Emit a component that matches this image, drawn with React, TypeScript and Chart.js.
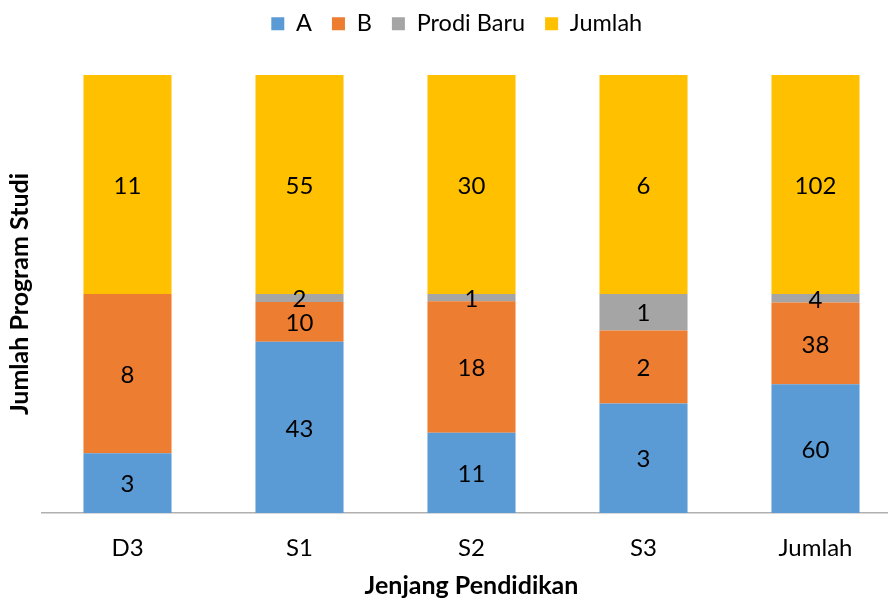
import React, { useEffect, useRef } from "react";
import { Chart, registerables } from "chart.js";

Chart.register(...registerables);

const categories = ["D3", "S1", "S2", "S3", "Jumlah"];
const seriesNames = ["A", "B", "Prodi Baru", "Jumlah"];
const valuesA = [3, 43, 11, 3, 60];
const valuesB = [8, 10, 18, 2, 38];
const valuesProdiBaru = [0, 2, 1, 1, 4];
const valuesJumlah = [11, 55, 30, 6, 102];
const colors = ["#5B9BD5", "#ED7D31", "#A5A5A5", "#FFC000"];
const xTitle = "Jenjang Pendidikan";
const yTitle = "Jumlah Program Studi";

const FONT = "Lato";

export default function App() {
  const ref = useRef<HTMLCanvasElement | null>(null);

  useEffect(() => {
    const raw = [valuesA, valuesB, valuesProdiBaru, valuesJumlah];
    const totals = categories.map((_, i) => raw.reduce((s, arr) => s + arr[i], 0));
    const datasets = raw.map((arr, k) => ({
      label: seriesNames[k],
      data: arr.map((v, i) => (v / totals[i]) * 100),
      rawValues: arr,
      backgroundColor: colors[k],
      borderWidth: 0,
      barPercentage: 0.512,
      categoryPercentage: 1,
    }));

    const legendHeight = {
      id: "legendHeight",
      beforeLayout(chart: any) {
        const lg = chart.legend;
        if (lg && !lg._patched) {
          const orig = lg.fit;
          lg.fit = function () {
            orig.call(this);
            this.height = 83;
          };
          lg._patched = true;
        }
      },
      afterLayout(chart: any) {
        const lg = chart.legend;
        if (lg) {
          lg.left += 6;
          lg.right += 6;
        }
      },
    };

    const valueLabels = {
      id: "valueLabels",
      afterDatasetsDraw(chart: any) {
        const ctx = chart.ctx;
        ctx.save();
        ctx.font = `24px ${FONT}`;
        ctx.fillStyle = "#000000";
        ctx.textAlign = "center";
        ctx.textBaseline = "middle";
        chart.data.datasets.forEach((ds: any, di: number) => {
          const meta = chart.getDatasetMeta(di);
          meta.data.forEach((el: any, i: number) => {
            const v = ds.rawValues[i];
            if (!v) return;
            const { x, y, base } = el.getProps(["x", "y", "base"], true);
            ctx.fillText(String(v), x, (y + base) / 2 + 1.5);
          });
        });
        ctx.restore();
      },
    };

    const chart = new Chart(ref.current as HTMLCanvasElement, {
      type: "bar",
      data: { labels: categories, datasets: datasets as any },
      options: {
        animation: false,
        responsive: false,
        layout: { padding: { top: -8, left: 0, right: 2.5, bottom: 0 } },
        plugins: {
          tooltip: { enabled: false },
          legend: {
            display: true,
            position: "top",
            labels: {
              boxWidth: 13,
              boxHeight: 13,
              padding: 20,
              color: "#000000",
              font: { family: FONT, size: 23.5 },
            },
          },
        },
        scales: {
          x: {
            stacked: true,
            grid: { display: true, drawOnChartArea: false, drawTicks: false },
            border: { display: true, color: "#B0B0B0", width: 1.5 },
            ticks: {
              color: "#000000",
              padding: 21,
              font: { family: FONT, size: 24 },
            },
            title: {
              display: true,
              text: xTitle,
              color: "#000000",
              font: { family: FONT, size: 25, weight: "bold" },
              padding: { top: 0, bottom: 0 },
            },
            afterFit(scale: any) {
              scale.height = 88;
            },
          },
          y: {
            stacked: true,
            min: 0,
            max: 100,
            grid: { display: false },
            border: { display: false },
            ticks: { display: false },
            title: {
              display: true,
              text: yTitle,
              color: "#000000",
              font: { family: FONT, size: 25, weight: "bold" },
              padding: { top: 5, bottom: 0 },
            },
            afterFit(scale: any) {
              scale.width = 41.5;
            },
          },
        },
      },
      plugins: [legendHeight, valueLabels],
    });
    return () => chart.destroy();
  }, []);

  return (
    <div style={{ position: "fixed", left: 0, top: 0, width: 888, height: 601, overflow: "hidden", background: "#fff" }}>
      <canvas ref={ref} width={904} height={601} style={{ width: 904, height: 601, display: "block" }} />
    </div>
  );
}
